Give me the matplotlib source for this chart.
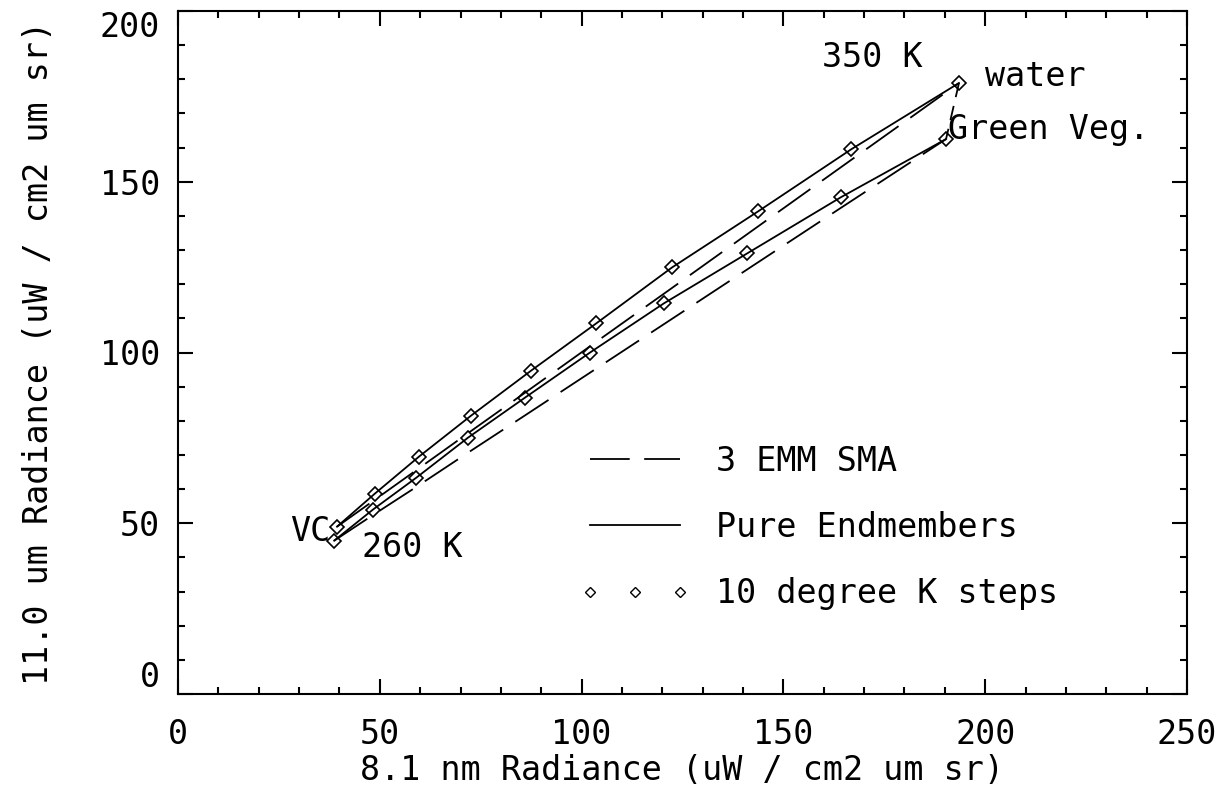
import numpy as np
import matplotlib
matplotlib.use('Agg')
import matplotlib.pyplot as plt
import matplotlib.ticker as ticker
from matplotlib.lines import Line2D

# temperatures of the diamond steps (260 K .. 350 K, 10 K apart)
temps = [260, 270, 280, 290, 300, 310, 320, 330, 340, 350]

# pure endmember curves
water_x = [39.4, 48.8, 59.7, 72.6, 87.5, 103.6, 122.4, 143.7, 166.8, 193.5]
water_y = [49.0, 58.7, 69.5, 81.5, 94.7, 108.5, 124.9, 141.3, 159.5, 178.9]
veg_x = [38.7, 48.3, 59.0, 71.9, 86.0, 102.1, 120.4, 141.0, 164.3, 190.3]
veg_y = [44.9, 54.0, 63.3, 75.1, 86.8, 100.0, 114.4, 129.0, 145.5, 162.5]

# 3 endmember SMA curves
sma_water_y = [49.0, 56.9, 66.1, 77.0, 89.5, 103.1, 118.9, 136.9, 156.4, 178.9]
sma_veg_y = [44.9, 52.4, 60.6, 70.7, 81.6, 94.1, 108.3, 124.3, 142.4, 162.5]

xticks = [0, 50, 100, 150, 200, 250]
yticks = [0, 50, 100, 150, 200]

plt.rcParams['font.family'] = ['DejaVu Sans Mono']
fs = 24

fig = plt.figure(figsize=(12.3, 8.02), dpi=100)
ax = fig.add_axes([178/1230, 1-694/802, (1187-178)/1230, (694-11)/802])

dash = (22, 8)
ax.plot(water_x, sma_water_y, color='k', lw=1.3, dashes=dash)
ax.plot(veg_x, sma_veg_y, color='k', lw=1.3, dashes=dash)
ax.plot([water_x[-1], veg_x[-1]], [water_y[-1], veg_y[-1]], color='k', lw=1.3, dashes=(8, 5))

ax.plot(water_x, water_y, color='k', lw=1.3, marker='D', ms=7, mfc='none', mec='k', mew=1.2)
ax.plot(veg_x, veg_y, color='k', lw=1.3, marker='D', ms=7, mfc='none', mec='k', mew=1.2)

ax.text(172.0, 186.5, '350 K', fontsize=fs, ha='center', va='center')
ax.text(200.0, 180.7, 'water', fontsize=fs, ha='left', va='center')
ax.text(190.8, 165.2, 'Green Veg.', fontsize=fs, ha='left', va='center')
ax.text(37.7, 47.7, 'VC', fontsize=fs, ha='right', va='center')
ax.text(45.6, 42.8, '260 K', fontsize=fs, ha='left', va='center')

handles = [Line2D([], [], color='k', lw=1.3, dashes=dash),
           Line2D([], [], color='k', lw=1.3),
           Line2D([], [], ls='none', marker='D', ms=5, mfc='none', mec='k', mew=1.0)]
labels = ['3 EMM SMA', 'Pure Endmembers', '10 degree K steps']
ax.legend(handles, labels, loc='upper left', bbox_to_anchor=(0.398, 0.365),
          frameon=False, fontsize=fs, numpoints=3, handlelength=3.3,
          handletextpad=0.8, labelspacing=1.0, borderpad=0, borderaxespad=0)

ax.set_xlim(0, 250)
ax.set_ylim(0, 200)
ax.set_xticks(xticks)
ax.set_yticks(yticks)
ax.xaxis.set_minor_locator(ticker.MultipleLocator(10))
ax.yaxis.set_minor_locator(ticker.MultipleLocator(10))
ax.tick_params(which='both', direction='in', top=True, right=True, width=1.5, labelsize=fs)
ax.tick_params(which='major', length=11)
ax.tick_params(which='minor', length=5)
ax.tick_params(axis='x', pad=17)
ax.tick_params(axis='y', pad=13)
for s in ax.spines.values():
    s.set_linewidth(1.5)

yt = ax.yaxis.get_major_ticks()
yt[-1].label1.set_va('top')
yt[0].label1.set_va('bottom')

ax.set_xlabel('8.1 nm Radiance (uW / cm2 um sr)', fontsize=fs)
ax.set_ylabel('11.0 um Radiance (uW / cm2 um sr)', fontsize=fs)
ax.xaxis.set_label_coords(0.5, -0.088)
ax.yaxis.set_label_coords(-0.122, 0.5)

fig.savefig('out.png', dpi=100)
